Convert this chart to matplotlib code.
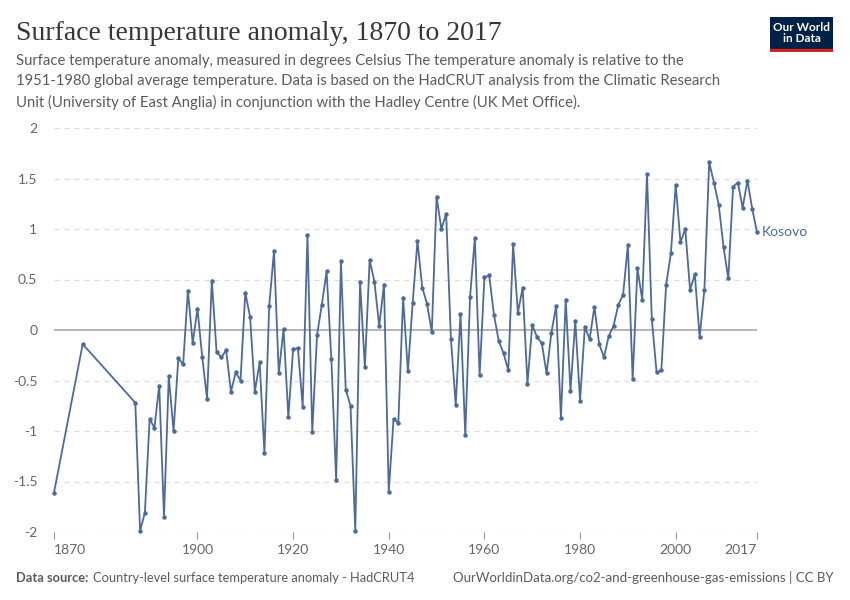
import matplotlib
matplotlib.use("Agg")
import matplotlib.pyplot as plt
from matplotlib.patches import Rectangle

years = [1870, 1876] + list(range(1887, 2018))
values = [-1.61, -0.14,
          -0.72, -1.99, -1.81, -0.88, -0.97, -0.55, -1.85, -0.46, -1.00, -0.28,  # 1887-1896
          -0.34, 0.39, -0.13, 0.21, -0.27, -0.68, 0.49, -0.22, -0.27, -0.20,     # 1897-1906
          -0.61, -0.42, -0.50, 0.37, 0.13, -0.61, -0.32, -1.22, 0.24, 0.78,      # 1907-1916
          -0.43, 0.01, -0.86, -0.19, -0.18, -0.76, 0.94, -1.01, -0.05, 0.25,     # 1917-1926
          0.58, -0.29, -1.49, 0.68, -0.59, -0.75, -1.99, 0.48, -0.37, 0.69,      # 1927-1936
          0.48, 0.04, 0.45, -1.60, -0.88, -0.92, 0.32, -0.41, 0.27, 0.88,        # 1937-1946
          0.42, 0.26, -0.02, 1.32, 1.00, 1.15, -0.09, -0.74, 0.16, -1.04,        # 1947-1956
          0.33, 0.91, -0.45, 0.52, 0.54, 0.15, -0.11, -0.23, -0.40, 0.85,        # 1957-1966
          0.17, 0.42, -0.53, 0.05, -0.07, -0.13, -0.43, -0.03, 0.24, -0.87,      # 1967-1976
          0.30, -0.60, 0.09, -0.70, 0.03, -0.09, 0.23, -0.14, -0.27, -0.06,      # 1977-1986
          0.04, 0.25, 0.35, 0.84, -0.49, 0.61, 0.30, 1.54, 0.11, -0.42,          # 1987-1996
          -0.40, 0.45, 0.76, 1.44, 0.87, 1.00, 0.40, 0.55, -0.07, 0.40,          # 1997-2006
          1.66, 1.46, 1.24, 0.82, 0.51, 1.42, 1.46, 1.21, 1.48, 1.20, 0.97]      # 2007-2017

xticks = [1870, 1900, 1920, 1940, 1960, 1980, 2000, 2017]
yticks = [-2, -1.5, -1, -0.5, 0, 0.5, 1, 1.5, 2]
ytick_labels = ["-2", "-1.5", "-1", "-0.5", "0", "0.5", "1", "1.5", "2"]
series_name = "Kosovo"

W, H = 850, 600
fig = plt.figure(figsize=(8.5, 6), dpi=100)
fig.patch.set_facecolor("white")

def fx(px):
    return px / W

def fy(py):
    return 1 - py / H

ax = fig.add_axes([fx(54), fy(532), fx(757) - fx(54), fy(128) - fy(532)])
ax.set_xlim(1870, 2017)
ax.set_ylim(-2, 2)
for s in ax.spines.values():
    s.set_visible(False)

grey = "#666666"
for v in yticks:
    if v == 0:
        ax.axhline(0, color="#a8a8a8", lw=1.2, zorder=1)
    else:
        ax.axhline(v, color="#dddddd", lw=0.9, ls=(0, (4, 4)), zorder=0)

line_color = "#4c6a9c"
ax.plot(years, values, color=line_color, lw=1.3, marker="o", ms=2.2, zorder=3, clip_on=False)

ax.set_yticks(yticks)
ax.set_yticklabels(ytick_labels, fontfamily="Lato", fontsize=10, color=grey)
ax.tick_params(axis="y", length=0, pad=12)

ax.set_xticks(xticks)
ax.set_xticklabels([str(t) for t in xticks], fontfamily="Lato", fontsize=10, color=grey)
ax.tick_params(axis="x", length=5, width=0.8, color="#999999", pad=4)
labels = ax.get_xticklabels()
labels[0].set_horizontalalignment("left")
labels[-1].set_horizontalalignment("right")

ax.text(2017.9, values[-1], series_name, color=line_color, fontsize=10,
        fontfamily="Lato", va="center", ha="left", clip_on=False)

# Title and subtitle
fig.text(fx(16), fy(33), "Surface temperature anomaly, 1870 to 2017",
         fontfamily="Liberation Serif", fontsize=20, color="#373737", va="center", ha="left")
subtitle = ("Surface temperature anomaly, measured in degrees Celsius The temperature anomaly is relative to the\n"
            "1951-1980 global average temperature. Data is based on the HadCRUT analysis from the Climatic Research\n"
            "Unit (University of East Anglia) in conjunction with the Hadley Centre (UK Met Office).")
fig.text(fx(16), fy(54), subtitle, fontfamily="Lato", fontsize=10.75, color="#5b5b5b",
         va="top", ha="left", linespacing=1.55)

# Logo
logo = fig.add_axes([fx(770), fy(52), fx(833) - fx(770), fy(17) - fy(52)])
logo.set_xlim(0, 1)
logo.set_ylim(0, 1)
logo.axis("off")
logo.add_patch(Rectangle((0, 0), 1, 1, color="#002147"))
logo.add_patch(Rectangle((0, 0), 1, 0.09, color="#ce261e"))
logo.text(0.5, 0.55, "Our World\nin Data", color="white", fontsize=8.5, fontfamily="Lato",
          fontweight="bold", ha="center", va="center", linespacing=1.05)

# Footer
fig.text(fx(16), fy(578), "Data source:", fontfamily="Lato", fontsize=9.3, color="#5b5b5b",
         fontweight="bold", va="center", ha="left")
fig.text(fx(93), fy(578), "Country-level surface temperature anomaly - HadCRUT4", fontfamily="Lato",
         fontsize=9.3, color="#5b5b5b", va="center", ha="left")
fig.text(fx(834), fy(578), "OurWorldinData.org/co2-and-greenhouse-gas-emissions | CC BY",
         fontfamily="Lato", fontsize=9.55, color="#5b5b5b", va="center", ha="right")

fig.savefig("out.png", dpi=100)
